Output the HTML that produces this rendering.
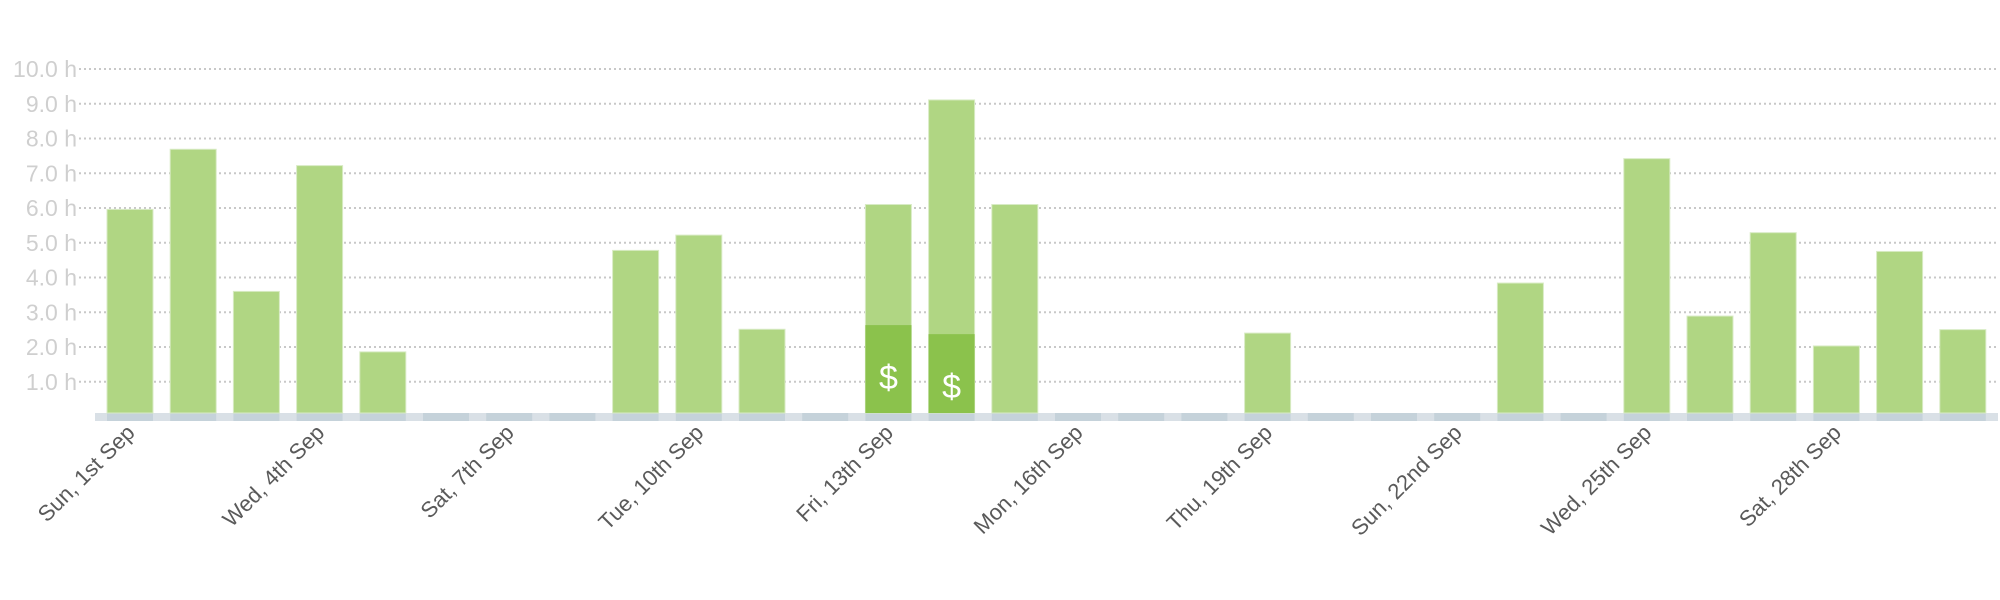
<!DOCTYPE html>
<html><head><meta charset="utf-8"><style>
html,body{margin:0;padding:0;background:#fff;width:2000px;height:600px;overflow:hidden}
svg{display:block;font-family:"Liberation Sans",sans-serif}
</style></head><body>
<svg id="chart" width="2000" height="600"></svg>
<script>
const days = ["Sun, 1st Sep","Mon, 2nd Sep","Tue, 3rd Sep","Wed, 4th Sep","Thu, 5th Sep","Fri, 6th Sep","Sat, 7th Sep","Sun, 8th Sep","Mon, 9th Sep","Tue, 10th Sep","Wed, 11th Sep","Thu, 12th Sep","Fri, 13th Sep","Sat, 14th Sep","Sun, 15th Sep","Mon, 16th Sep","Tue, 17th Sep","Wed, 18th Sep","Thu, 19th Sep","Fri, 20th Sep","Sat, 21st Sep","Sun, 22nd Sep","Mon, 23rd Sep","Tue, 24th Sep","Wed, 25th Sep","Thu, 26th Sep","Fri, 27th Sep","Sat, 28th Sep","Sun, 29th Sep","Mon, 30th Sep"];
const totalHours = [5.96,7.69,3.6,7.22,1.86,0,0,0,4.78,5.22,2.51,0,6.1,9.11,6.1,0,0,0,2.4,0,0,0,3.84,0,7.42,2.89,5.29,2.03,4.75,2.5];
const billableHours = [0,0,0,0,0,0,0,0,0,0,0,0,2.63,2.37,0,0,0,0,0,0,0,0,0,0,0,0,0,0,0,0];
const yTicks = [1,2,3,4,5,6,7,8,9,10];
const yTickLabels = ["1.0 h","2.0 h","3.0 h","4.0 h","5.0 h","6.0 h","7.0 h","8.0 h","9.0 h","10.0 h"];

const NS="http://www.w3.org/2000/svg";
const svg=document.getElementById('chart');
const y0=416.5, pxPerH=34.75, x0=107, step=63.2, bw=46;
const y=v=>y0-v*pxPerH;
const x=i=>x0+i*step;
function mk(tag,attrs,parent){const e=document.createElementNS(NS,tag);for(const k in attrs)e.setAttribute(k,attrs[k]);(parent||svg).appendChild(e);return e;}

yTicks.forEach((t,k)=>{
  const l=mk('line',{x1:79,x2:1997,y1:y(t),y2:y(t),stroke:'#c8c8c8','stroke-width':2,'stroke-dasharray':'2 3'});
  
  
  const tx=mk('text',{x:77,y:y(t)+8,'text-anchor':'end','font-size':23,fill:'#cfcfcf'});
  tx.textContent=yTickLabels[k];
  
  
});

const strip=mk('rect',{x:95,y:413,width:1903,height:8,fill:'#d9e0e6'});



days.forEach((d,i)=>{
  const seg=mk('rect',{x:x(i),y:413,width:bw,height:8,fill:'#c5d2da'});
  
  
  const v=totalHours[i];
  if(v>0){
    const top=y(v);
    const b=mk('rect',{x:x(i),y:top,width:bw,height:413-top,fill:'#b0d683',stroke:'#d8ebc4','stroke-width':1});
    
    
    const bv=billableHours[i];
    if(bv>0){
      const bt=y(bv);
      const bb=mk('rect',{x:x(i),y:bt,width:bw,height:413-bt,fill:'#8bc24c'});
      
      
      const ds=mk('text',{x:x(i)+bw/2,y:bt+64,'text-anchor':'middle','font-size':34,fill:'#fff'});
      ds.textContent='$';
      
      
    }
  }
  if(i%3===0){
    const cx=x(i)+bw/2+6, cy=434;
    const lt=mk('text',{x:cx,y:cy,'text-anchor':'end','font-size':22,fill:'#5a5a5a',transform:`rotate(-45 ${cx} ${cy})`});
    lt.textContent=d;
    
    
  }
});
</script>
</body></html>
